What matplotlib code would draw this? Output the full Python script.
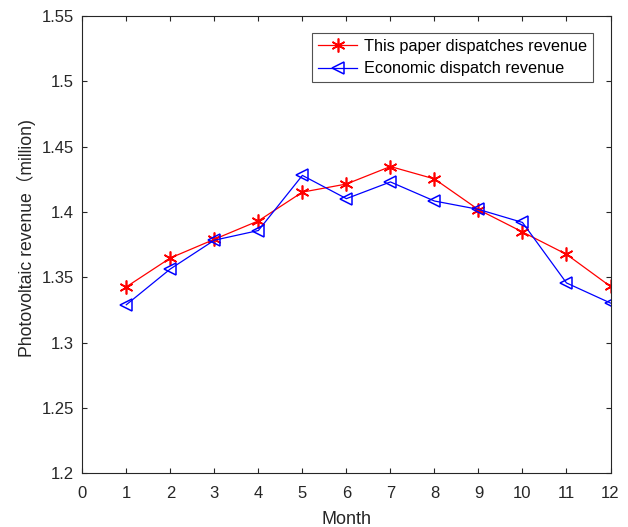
import matplotlib
matplotlib.use("Agg")
import matplotlib.pyplot as plt

months = list(range(1, 13))
this_paper = [1.3427, 1.3648, 1.3791, 1.3932, 1.4152, 1.4214, 1.4348, 1.4253, 1.4018, 1.3847, 1.3676, 1.343]
economic = [1.329, 1.3564, 1.3784, 1.3858, 1.428, 1.4102, 1.423, 1.4084, 1.402, 1.392, 1.3457, 1.3303]
xticks = list(range(0, 13))
yticks = [1.2, 1.25, 1.3, 1.35, 1.4, 1.45, 1.5, 1.55]
ytick_labels = ["1.2", "1.25", "1.3", "1.35", "1.4", "1.45", "1.5", "1.55"]

plt.rcParams['font.family'] = ['Liberation Sans', 'Noto Sans CJK SC', 'DejaVu Sans']

W, H = 628, 527
fig = plt.figure(figsize=(W / 100, H / 100), dpi=100)
left, right, top, bottom = 82.3, 610.5, 16.0, 473.3
ax = fig.add_axes([left / W, 1 - bottom / H, (right - left) / W, (bottom - top) / H])

ax.plot(months, this_paper, color='red', lw=0.9, marker=(6, 2, 0), ms=10,
        mew=1.2, label='This paper dispatches revenue')
ax.plot(months, economic, color='blue', lw=0.9, marker='<', ms=9,
        mfc='none', mew=1.1, label='Economic dispatch revenue')

ax.set_xlim(0, 12)
ax.set_ylim(1.2, 1.55)
ax.set_xticks(xticks)
ax.set_yticks(yticks)
ax.set_yticklabels(ytick_labels)
ax.tick_params(direction='in', top=True, right=True, labelsize=12, length=3.6, width=0.8,
               colors='#262626')
ax.tick_params(axis='x', pad=9)
ax.tick_params(axis='y', pad=6)
for s in ax.spines.values():
    s.set_color('#262626')
    s.set_linewidth(0.8)

ax.set_xlabel('Month', fontsize=13, color='#262626', labelpad=7)
ax.set_ylabel('Photovoltaic revenue（million)', fontsize=12.7, color='#262626', labelpad=4)
ax.yaxis.label.set_y(0.515)

ax_w = right - left
ax_h = bottom - top
leg = ax.legend(loc='upper right', bbox_to_anchor=((593 - left) / ax_w, (bottom - 33) / ax_h),
                fontsize=11.7, frameon=True, fancybox=False, edgecolor='#262626',
                borderpad=0.38, handlelength=2.4, handletextpad=0.4, labelspacing=0.44,
                borderaxespad=0.0)
leg.get_frame().set_linewidth(0.8)

fig.savefig('out.png', dpi=100)
